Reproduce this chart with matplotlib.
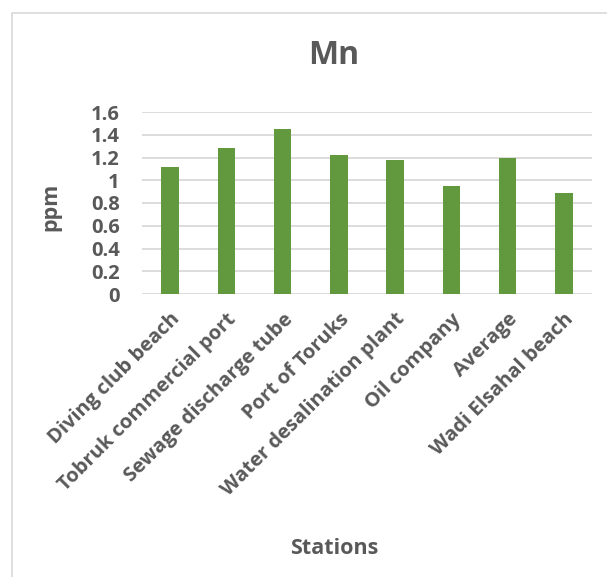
import matplotlib.pyplot as plt
from matplotlib.patches import Rectangle

stations = [
    "Diving club beach",
    "Tobruk commercial port",
    "Sewage discharge tube",
    "Port of Toruks",
    "Water desalination plant",
    "Oil company",
    "Average",
    "Wadi Elsahal beach",
]
mn_ppm = [1.12, 1.28, 1.45, 1.22, 1.18, 0.95, 1.20, 0.89]
y_ticks = [0, 0.2, 0.4, 0.6, 0.8, 1, 1.2, 1.4, 1.6]
y_tick_labels = ["0", "0.2", "0.4", "0.6", "0.8", "1", "1.2", "1.4", "1.6"]

TEXT = "#595959"
plt.rcParams["font.family"] = ["Open Sans", "DejaVu Sans"]
plt.rcParams["font.weight"] = "bold"

fig = plt.figure(figsize=(6.07, 5.77), dpi=100)
W, H = 607, 577
ax = fig.add_axes([142 / W, 1 - 294 / H, 450 / W, 182 / H])

x = range(len(stations))
ax.bar(x, mn_ppm, width=0.31, color="#62993e", zorder=3)

ax.set_xlim(-0.5, len(stations) - 0.5)
ax.set_ylim(0, 1.6)
ax.set_yticks(y_ticks)
ax.set_yticklabels(y_tick_labels, fontsize=14.5, color=TEXT, fontweight="bold")
ax.set_xticks(list(x))
ax.set_xticklabels(stations, rotation=45, ha="right", va="top",
                   rotation_mode="anchor", fontsize=14.5, color=TEXT,
                   fontweight="bold")
ax.tick_params(axis="both", length=0)
ax.tick_params(axis="y", pad=16)
ax.tick_params(axis="x", pad=11)
ax.grid(axis="y", color="#d9d9d9", linewidth=1.3, zorder=0)
for s in ax.spines.values():
    s.set_visible(False)

fig.text(334 / W, 1 - 56 / H, "Mn", ha="center", va="center",
         fontsize=23, color=TEXT, fontweight="bold")
fig.text(51 / W, 1 - 207 / H, "ppm", ha="center", va="center",
         rotation=90, fontsize=15.5, color=TEXT, fontweight="bold")
fig.text(334 / W, 1 - 548 / H, "Stations", ha="center", va="center",
         fontsize=15.5, color=TEXT, fontweight="bold")

fig.patches.append(Rectangle((12 / W, -0.1), 1.2, 1 - 13 / H + 0.1,
                             transform=fig.transFigure, fill=False,
                             edgecolor="#d9d9d9", linewidth=1.2))

fig.savefig("out.png", dpi=100)
